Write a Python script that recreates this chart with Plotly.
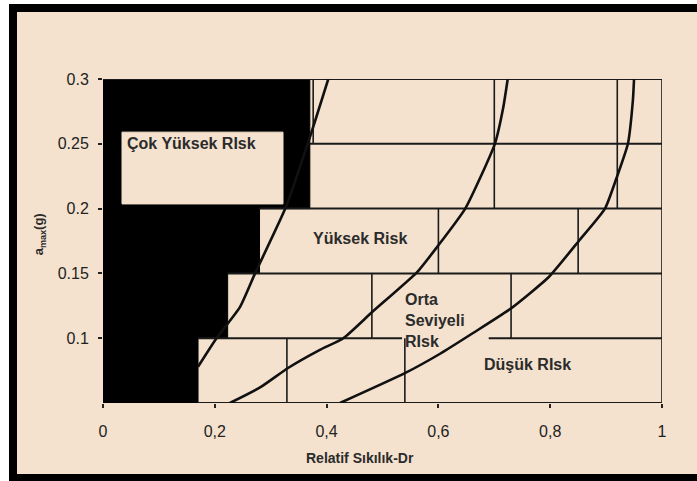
import plotly.graph_objects as go

# ---------------- data ----------------
# Risk boundary curves (x = relative density Dr, y = a_max in g)
c1_x = [0.170, 0.203, 0.245, 0.272, 0.326, 0.370, 0.403]
c1_y = [0.078, 0.100, 0.124, 0.150, 0.200, 0.255, 0.300]

c2_x = [0.227, 0.281, 0.331, 0.388, 0.430, 0.481, 0.562, 0.597, 0.648, 0.701, 0.716, 0.724]
c2_y = [0.050, 0.062, 0.077, 0.091, 0.100, 0.120, 0.151, 0.170, 0.200, 0.250, 0.278, 0.300]

c3_x = [0.424, 0.540, 0.603, 0.662, 0.730, 0.797, 0.853, 0.898, 0.919, 0.939, 0.948, 0.950]
c3_y = [0.050, 0.073, 0.088, 0.104, 0.123, 0.147, 0.176, 0.200, 0.224, 0.250, 0.284, 0.300]

# Black "very high risk" zone: left edge per band (band bottoms / tops)
band_lo = [0.05, 0.10, 0.15, 0.20]
band_hi = [0.10, 0.15, 0.20, 0.30]
black_edge = [0.170, 0.223, 0.280, 0.370]

# Label box inside the black zone
box_x = [0.034, 0.322]
box_y = [0.2036, 0.259]

# Brick pattern: horizontal lines (y, x start, x end)
h_y = [0.10, 0.10, 0.15, 0.20, 0.25, 0.30, 0.05]
h_x0 = [0.170, 0.690, 0.223, 0.280, 0.370, 0.000, 0.170]
h_x1 = [0.535, 1.000, 1.000, 1.000, 1.000, 1.000, 1.000]

# Brick pattern: vertical lines (x, y start, y end)
v_x = [0.329, 0.540, 1.000, 0.481, 0.730, 1.000, 0.600, 0.850, 1.000, 0.700, 0.920, 1.000, 0.376]
v_y0 = [0.05, 0.05, 0.05, 0.10, 0.10, 0.10, 0.15, 0.15, 0.15, 0.20, 0.20, 0.20, 0.25]
v_y1 = [0.10, 0.10, 0.10, 0.15, 0.15, 0.15, 0.20, 0.20, 0.20, 0.30, 0.30, 0.30, 0.30]

x_ticks = [0, 0.2, 0.4, 0.6, 0.8, 1.0]
x_ticktext = ["0", "0,2", "0,4", "0,6", "0,8", "1"]
y_ticks = [0.1, 0.15, 0.2, 0.25, 0.3]
y_ticktext = ["0.1", "0.15", "0.2", "0.25", "0.3"]

labels = ["Çok Yüksek RIsk", "Yüksek Risk", "Orta<br>Seviyeli<br>RIsk", "Düşük RIsk"]
label_x = [0.039, 0.460, 0.537, 0.759]
label_y = [0.2506, 0.177, 0.114, 0.080]
label_anchor = ["left", "center", "left", "center"]

BEIGE = "#F4E2CE"
INK = "#111111"
FONT = "Liberation Sans, Arial, sans-serif"

fig = go.Figure()

# black zone polygon (stepped)
px, py = [0.0], [band_lo[0]]
for lo, hi, e in zip(band_lo, band_hi, black_edge):
    px += [e, e]
    py += [lo, hi]
px += [0.0, 0.0]
py += [band_hi[-1], band_lo[0]]
fig.add_trace(go.Scatter(x=px, y=py, fill="toself", fillcolor="#000000",
                         line=dict(color="#000000", width=1), mode="lines",
                         hoverinfo="skip", showlegend=False))

# beige label box
fig.add_trace(go.Scatter(x=[box_x[0], box_x[1], box_x[1], box_x[0], box_x[0]],
                         y=[box_y[0], box_y[0], box_y[1], box_y[1], box_y[0]],
                         fill="toself", fillcolor=BEIGE, mode="lines",
                         line=dict(color=BEIGE, width=1),
                         hoverinfo="skip", showlegend=False))

# horizontal brick lines
hx, hy = [], []
for y, a, b in zip(h_y, h_x0, h_x1):
    hx += [a, b, None]
    hy += [y, y, None]
fig.add_trace(go.Scatter(x=hx, y=hy, mode="lines", line=dict(color="#1a1a1a", width=2),
                         hoverinfo="skip", showlegend=False))

# vertical brick lines
vx, vy = [], []
for x, a, b in zip(v_x, v_y0, v_y1):
    vx += [x, x, None]
    vy += [a, b, None]
fig.add_trace(go.Scatter(x=vx, y=vy, mode="lines", line=dict(color="#1a1a1a", width=1.6),
                         hoverinfo="skip", showlegend=False))

# boundary curves
for cx, cy in [(c1_x, c1_y), (c2_x, c2_y), (c3_x, c3_y)]:
    fig.add_trace(go.Scatter(x=cx, y=cy, mode="lines",
                             line=dict(color=INK, width=2.6, shape="spline", smoothing=0.5),
                             hoverinfo="skip", showlegend=False))

# region labels
for t, x, y, a in zip(labels, label_x, label_y, label_anchor):
    fig.add_annotation(x=x, y=y, text="<b>" + t + "</b>", showarrow=False,
                       xanchor=a, yanchor="middle", align="left",
                       font=dict(family=FONT, size=16, color="#2b2b2b"))

# axis titles
fig.add_annotation(xref="paper", yref="paper", x=-0.113, y=0.52,
                   xanchor="center", yanchor="middle",
                   text="<b>a<sub>max</sub>(g)</b>", textangle=-90, showarrow=False,
                   font=dict(family=FONT, size=13, color="#2b2b2b"))
fig.add_annotation(xref="paper", yref="paper", x=0.46, y=-0.17,
                   xanchor="center", yanchor="middle",
                   text="<b>Relatif Sıkılık-Dr</b>", showarrow=False,
                   font=dict(family=FONT, size=14, color="#2b2b2b"))

# frame: white page edge + black border on top, left and bottom (beige paper inside)
frame = [
    # (x0, x1, y0, y1, colour) in paper units
    (-0.19, 1.10, 1.23148, 1.26, "#ffffff"),      # white strip at top
    (-0.19, -0.16816, -0.26, 1.26, "#ffffff"),    # white strip at left
    (-0.16816, 1.10, 1.20679, 1.23148, "#000000"),  # top border
    (-0.16816, -0.15385, -0.26, 1.23148, "#000000"),  # left border
    (-0.16816, 1.10, -0.26, -0.21914, "#000000"),  # bottom border
    (1.00, 1.10, -0.21914, 1.20679, BEIGE),        # right margin stays beige
]
for x0, x1, y0, y1, col in frame:
    fig.add_shape(type="rect", xref="paper", yref="paper", x0=x0, x1=x1,
                  y0=y0, y1=y1, fillcolor=col, line=dict(width=0), layer="below")

fig.update_layout(
    width=697, height=481,
    margin=dict(l=103, r=35, t=79, b=78),
    paper_bgcolor=BEIGE,
    plot_bgcolor="rgba(0,0,0,0)",
    showlegend=False,
    xaxis=dict(range=[0, 1], tickvals=x_ticks, ticktext=x_ticktext,
               showgrid=False, zeroline=False, showline=False,
               ticks="outside", ticklen=4, tickwidth=1.5, tickcolor="#222",
               ticklabelstandoff=10,
               tickfont=dict(family=FONT, size=16, color="#222")),
    yaxis=dict(range=[0.05, 0.3], tickvals=y_ticks, ticktext=y_ticktext,
               showgrid=False, zeroline=False, showline=False,
               ticks="outside", ticklen=4, tickwidth=1.5, tickcolor="#222",
               ticklabelstandoff=6,
               tickfont=dict(family=FONT, size=16, color="#222")),
)

fig.write_html(
    "out.html", config={"displayModeBar": False},
    post_script=("document.documentElement.style.overflow='hidden';"
                 "document.body.style.margin='0px';"
                 "document.body.style.overflow='hidden';"
                 "document.body.style.background='" + BEIGE + "';"
                 "document.documentElement.style.background='" + BEIGE + "';"))
